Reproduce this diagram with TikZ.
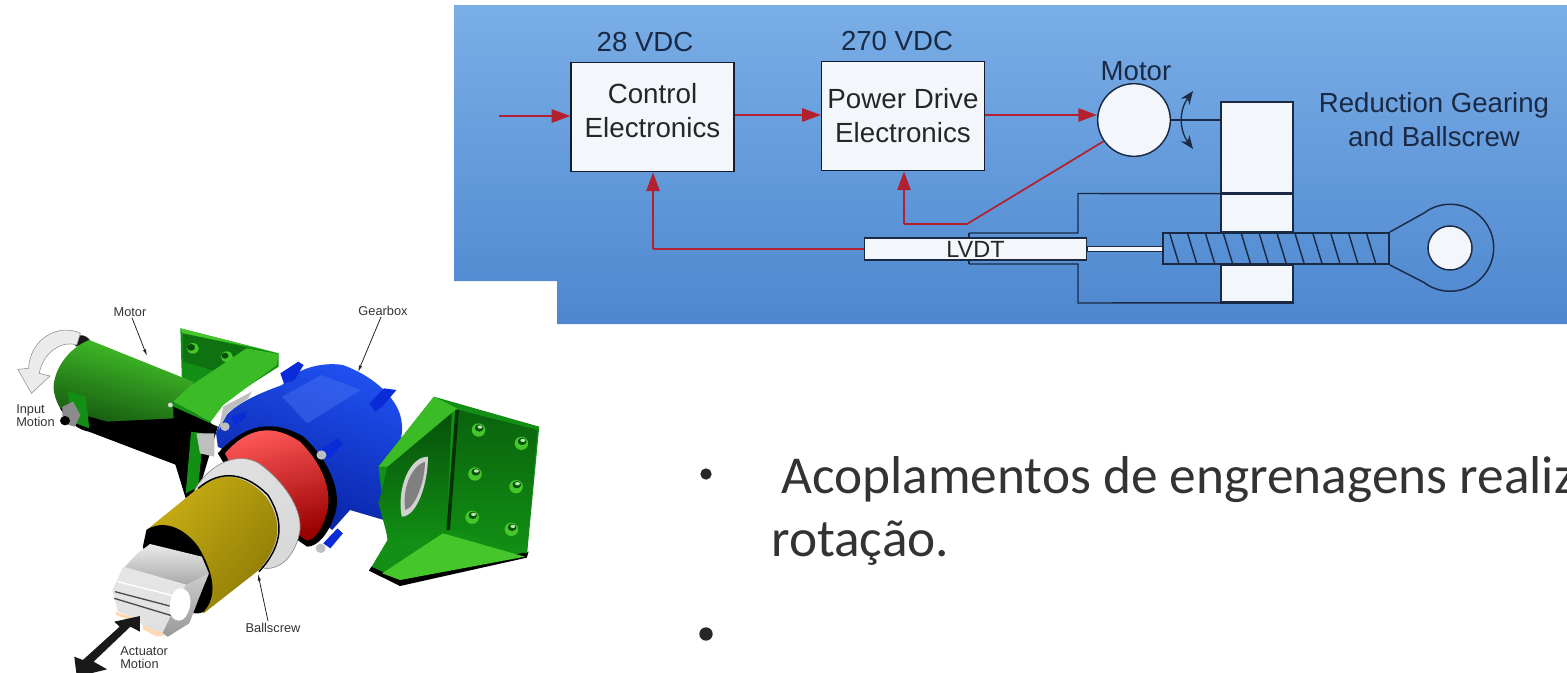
\documentclass[tikz,border=0pt]{standalone}
\usepackage{fontspec}
\setmainfont{Liberation Sans}
\newfontfamily\bodyfont{Carlito}
\usetikzlibrary{arrows.meta,calc}
\definecolor{sigred}{HTML}{B3202E}
\definecolor{ink}{HTML}{1B2A44}
\definecolor{paper}{HTML}{F3F6FA}
\definecolor{gA}{HTML}{45C62A}
\definecolor{gB}{HTML}{128F14}
\definecolor{gC}{HTML}{06500A}
\definecolor{bA}{HTML}{2050F0}
\definecolor{bB}{HTML}{0A2BD8}
\definecolor{bC}{HTML}{0620A0}
\definecolor{yA}{HTML}{C9AE14}
\definecolor{yB}{HTML}{E5D24A}
\definecolor{yC}{HTML}{8E7C05}
\definecolor{panelA}{RGB}{122,174,231}
\definecolor{panelB}{RGB}{93,149,217}
\definecolor{panelC}{RGB}{78,135,207}
\tikzset{
  x=0.75pt,y=-0.75pt,
  sigline/.style={draw=sigred,line width=1.3pt},
  sigarrow/.style={sigline,-{Triangle[length=14pt,width=10pt]}},
  block/.style={draw=ink!70!black,fill=paper,line width=1.2pt,inner sep=0pt,minimum width=122pt,minimum height=82pt,align=center,font=\fontsize{20.8}{25.5}\selectfont,text=black!85},
  blocktext/.style={inner sep=0pt,align=center,font=\fontsize{20.8}{25.5}\selectfont,text=black!85},
  captext/.style={inner sep=0pt,text=ink,font=\fontsize{20.7}{25}\selectfont,align=center},
  mech/.style={draw=ink,line width=1.1pt},
  whitepart/.style={draw=ink,fill=paper,line width=1.1pt},
  smalltext/.style={inner sep=0pt,align=left,text=black!80,font=\fontsize{9.6}{9.8}\selectfont},
  leader/.style={draw=black!85,line width=0.6pt,-{Latex[length=5pt,width=2.5pt]}},
  bodytext/.style={inner sep=0pt,anchor=base west,text=black!80,font=\bodyfont\fontsize{40}{45}\selectfont},
  bulletdot/.style={circle,fill=black!85,inner sep=0pt,minimum size=10pt},
  zoomed/.style={x=0.26786pt,y=-0.25pt,yshift=-217.5pt}
}
\begin{document}
\begin{tikzpicture}
\useasboundingbox (0,0) rectangle (1567,672);
\clip (0,0) rectangle (1567,672);
% ---------- blue panel
\path[top color=panelA,middle color=panelB,bottom color=panelC]
  (454,5) -- (1567,5) -- (1567,324) -- (557,324) -- (557,281) -- (454,281) -- cycle;
% ---------- mechanical schematic
\node[whitepart,minimum width=54pt,minimum height=68pt,inner sep=0pt] (gearA) at (1257,147.5) {};
\node[whitepart,minimum width=54pt,minimum height=29pt,inner sep=0pt] (gearB) at (1257,212.5) {};
\node[whitepart,minimum width=54pt,minimum height=28pt,inner sep=0pt] (gearC) at (1257,283.5) {};
\draw[ink,line width=2pt] (gearA.south west) -- (gearA.south east);
\draw[ink,line width=2pt] (gearC.south west) -- (gearC.south east);
\coordinate (hTopA) at (gearA.south west);
\coordinate (hBotA) at (gearC.south west);
\coordinate (hTopB) at (1078,233);
\coordinate (hBotB) at (1078,264);
\coordinate (sleeveT) at (969,233);
\coordinate (sleeveB) at (969,264);
\draw[mech] (hTopA) -- (1078,193.5) -- (hTopB) -- (sleeveT);
\draw[mech] (hBotA) -- (1078,303) -- (hBotB) -- (sleeveB);
% screw
\node[whitepart,minimum width=57pt,minimum height=3.6pt,inner sep=0pt] (rod) at (1125,249) {};
\node[mech,minimum width=169.5pt,minimum height=23.5pt,inner sep=0pt] (screw) at (1276,248.5) {};
\foreach \i in {0,...,11}{\draw[mech] ($(screw.north west)+(7+17.9*\i,0)$) -- ($(screw.south west)+(17+17.9*\i,0)$);}
% eye
\coordinate (eyeC) at (1450,248);
\draw[mech] (screw.north east) -- (1424,213) arc[start angle=-127,end angle=127,radius=43.5] -- (screw.south east);
\node[whitepart,circle,minimum size=33pt,inner sep=0pt] (eyeHole) at (eyeC) {};
% LVDT
\draw[mech] (969,233) -- (969,264);
\node[whitepart,minimum width=166.5pt,minimum height=16.5pt,inner sep=0pt,text=black!85,font=\fontsize{17.6}{20}\selectfont] (lvdt) at (975.5,249) {LVDT};
% motor
\node[whitepart,circle,minimum size=54.5pt,inner sep=0pt] (motor) at (1134,120) {};
\node[captext] (motorT) at (1136,71) {Motor};
\draw[ink,line width=1.1pt] (motor.east) -- (gearA.west |- motor.east);
\coordinate (rotT) at (1193,91);
\coordinate (rotB) at (1193,149);
\draw[ink,line width=1pt,{Stealth[length=10pt,width=8pt]}-{Stealth[length=10pt,width=8pt]}] (rotT) .. controls (1179,110) and (1179,130) .. (rotB);
% blocks
\node[block] (ctrl) at (652.5,117) {};
\node[blocktext] (ctrlT) at (652.5,111) {Control\\Electronics};
\node[block] (drive) at (903,116) {Power Drive\\Electronics};
\node[captext] (v28) at (645,42) {28 VDC};
\node[captext] (v270) at (897,41) {270 VDC};
\node[captext] (redT) at (1434,119.5) {Reduction Gearing\\and Ballscrew};
% signal lines
\coordinate (inp) at (499,116);
\coordinate (fb1) at (967,224);
\coordinate (fb2) at (904,224);
\coordinate (fb3) at (653,249);
\draw[sigarrow] (inp) -- (ctrl.west |- inp);
\draw[sigarrow] (ctrl.east |- 0,115) -- (drive.west |- 0,115);
\draw[sigarrow] (drive.east |- 0,115) -- (motor.west |- 0,115);
\draw[sigline] (motor.-145) -- (fb1) -- (fb2);
\draw[sigarrow] (fb2) -- (drive.south -| fb2);
\draw[sigline] (lvdt.west) -- (fb3);
\draw[sigarrow] (fb3) -- (ctrl.south -| fb3);
% ---------- text
\node[bodytext] (bodyA) at (781,493) {Acoplamentos de engrenagens realiz};
\node[bodytext] (bodyB) at (771,556) {rotação.};
\node[bulletdot,minimum size=8.5pt] (dotA) at (706,474) {};
\node[bulletdot] (dotB) at (706,634) {};
% ---------- actuator illustration
\begin{scope}[zoomed]
 % gray rotation arrow
 \fill[black!90] (205,142) .. controls (225,130) and (240,135) .. (252,150) -- (225,165) -- (212,170) -- cycle;
 \draw[black!45,fill=black!8,line width=0.4pt] (225,130) .. controls (170,100) and (85,140) .. (80,235) -- (50,238) -- (88,310) -- (140,258) -- (110,250) .. controls (120,190) and (170,150) .. (215,165) -- cycle;
 % motor rear bracket plate
 \fill[gB] (505,115) -- (780,190) -- (780,230) -- (620,340) -- (510,300) -- cycle;
 \fill[gA] (505,115) -- (780,190) -- (700,170) -- (510,130) -- cycle;
 \fill[gB!80!black] (512,130) -- (690,172) -- (690,200) -- (610,245) -- (512,215) -- cycle;
 \fill[gA] (540,175) circle[x radius=17,y radius=16];
 \fill[gC] (535,172) circle[x radius=11,y radius=10];
 \fill[gA] (635,200) circle[x radius=17,y radius=16];
 \fill[gC] (630,197) circle[x radius=10,y radius=9];
 % motor body
 \path[top color=gA,middle color=gB,bottom color=gC!60!black,shading angle=-15] (250,150) .. controls (190,175) and (150,240) .. (150,295) .. controls (155,350) and (190,400) .. (250,425) -- (495,525) -- (560,400) -- (540,275) -- cycle;
 \fill[black] (168,355) .. controls (195,400) and (220,420) .. (250,425) -- (495,525) -- (560,400) -- (490,385) -- (300,395) -- cycle;
 \fill[gB] (190,305) -- (240,320) -- (250,415) -- (200,395) -- cycle;
 \fill[black!45] (175,350) -- (205,335) -- (225,375) -- (210,410) -- (175,400) -- cycle;
 \fill[black] (182,392) circle[radius=14];
 % bracket front
 \fill[gA!80!gB] (485,335) -- (530,290) -- (690,175) -- (780,192) -- (775,225) -- (625,345) -- (590,395) -- cycle;
 \fill[gB] (485,335) -- (590,395) -- (600,420) -- (480,355) -- cycle;
 \fill[black] (485,350) -- (610,410) -- (560,590) -- (520,625) -- (490,520) -- cycle;
 \fill[gB] (535,425) -- (570,430) -- (555,590) -- (520,610) -- cycle;
 \fill[black!25] (550,430) -- (600,430) -- (600,500) -- (560,490) -- cycle;
 \fill[white!85!black] (477,345) circle[radius=7];
 % blue gearbox
 \path[top color=bA,middle color=bB,bottom color=bC,shading angle=-20] (605,430) .. controls (620,360) and (700,320) .. (790,285) .. controls (830,235) and (900,215) .. (960,225) .. controls (1050,260) and (1120,330) .. (1125,400) .. controls (1130,440) and (1115,480) .. (1090,520) -- (1075,690) -- (980,660) -- (930,720) -- (700,520) -- (610,470) -- cycle;
 \fill[bA!80!white,opacity=.45] (790,320) -- (900,255) -- (1010,300) -- (950,340) -- (860,400) -- cycle;
 \fill[black!25] (625,350) -- (705,305) -- (695,325) -- (640,365) -- (612,420) -- cycle;
 \fill[bB] (785,250) -- (835,215) -- (850,225) -- (825,270) -- (795,280) -- cycle;
 \fill[bB] (1035,340) -- (1075,295) -- (1110,300) -- (1070,350) -- (1050,365) -- cycle;
 \fill[bB] (895,480) -- (945,445) -- (960,460) -- (930,500) -- (905,505) -- cycle;
 \fill[bB] (650,380) -- (690,365) -- (690,380) -- (655,410) -- cycle;
 \fill[bB] (905,760) -- (945,715) -- (960,730) -- (925,775) -- cycle;
 % right bracket
 \fill[gB] (1060,530) -- (1215,320) -- (1510,410) -- (1475,800) -- (1120,885) -- (1035,840) -- (1085,750) -- cycle;
 \fill[black] (1120,888) -- (1475,803) -- (1480,785) -- (1120,870) -- (1040,830) -- (1033,842) -- cycle;
 \path[top color=gC,bottom color=gB] (1085,530) -- (1265,365) -- (1250,740) -- (1090,760) -- (1060,640) -- cycle;
 \path[top color=gC!70!gB,bottom color=gB] (1285,360) -- (1505,420) -- (1475,790) -- (1255,715) -- cycle;
 \fill[gA] (1240,730) -- (1470,800) -- (1120,870) -- (1070,850) -- cycle;
 \fill[gA!80!gB] (1060,530) -- (1215,320) -- (1280,355) -- (1085,530) -- cycle;
 \fill[black!40!gC] (1275,360) -- (1285,360) -- (1260,720) -- (1250,720) -- cycle;
 \fill[black!18] (1125,680) .. controls (1110,600) and (1145,500) .. (1198,500) .. controls (1200,570) and (1170,680) .. (1125,680) -- cycle;
 \fill[black!50] (1135,660) .. controls (1125,600) and (1150,530) .. (1190,515) .. controls (1190,570) and (1165,650) .. (1135,660) -- cycle;
 \foreach \hx/\hy in {1340/420,1460/460,1330/552,1445/590,1322/682,1432/718}{
   \fill[gA] (\hx,\hy) circle[x radius=19,y radius=20];
   \fill[gC] (\hx+2,\hy-6) circle[x radius=12,y radius=11];
   \fill[white!60!gA] (\hx+4,\hy-9) circle[x radius=7,y radius=5];
 }
 % red section
 \fill[black] (610,490) .. controls (690,395) and (770,390) .. (850,440) .. controls (930,520) and (960,620) .. (935,680) .. controls (920,730) and (890,770) .. (860,770) -- (700,650) -- cycle;
 \path[top color=red!65!white,middle color=red!85!black,bottom color=red!60!black,shading angle=15] (630,490) .. controls (700,405) and (770,405) .. (840,455) .. controls (910,530) and (930,610) .. (915,670) .. controls (900,720) and (885,745) .. (860,752) -- (700,640) -- cycle;
 \fill[black!25] (630,410) circle[radius=13];
 \fill[black!25] (900,495) circle[radius=14];
 \fill[black!25] (898,775) circle[radius=14];
 % silver nut
 \path[draw=black!45,line width=0.5pt,top color=black!12,middle color=black!40,bottom color=black!15,shading angle=30] (545,600) .. controls (590,515) and (670,485) .. (725,520) .. controls (790,570) and (845,650) .. (840,720) .. controls (830,790) and (790,840) .. (740,835) -- (600,720) -- cycle;
 % yellow cylinder
 \path[top color=yA,middle color=yB,bottom color=yC,shading angle=50] (560,590) .. controls (620,540) and (690,555) .. (745,620) .. controls (790,690) and (790,760) .. (725,840) -- (570,970) -- (410,720) -- cycle;
 \draw[black,line width=1.1pt] (555,595) .. controls (620,535) and (690,550) .. (750,615) .. controls (795,690) and (795,765) .. (725,845);
 % tube interior
 \fill[black] (410,720) .. controls (450,690) and (510,705) .. (555,770) .. controls (600,850) and (610,920) .. (570,965) .. controls (540,985) and (440,950) .. (400,770) -- cycle;
 % silver clevis
 \path[top color=black!8,bottom color=black!35] (385,790) -- (420,762) -- (565,800) -- (585,850) -- (530,890) -- (345,835) -- cycle;
 \path[top color=black!10,middle color=black!65,bottom color=black!12] (345,830) -- (525,885) -- (470,1040) -- (400,1010) -- (385,985) -- (330,965) -- (315,900) -- cycle;
 \draw[black!70,line width=1pt] (322,905) -- (500,955) (320,925) -- (490,980);
 \draw[white,line width=1pt] (330,875) -- (515,925);
 \path[top color=black!20,bottom color=black!40] (520,885) -- (585,850) -- (555,930) -- (530,1000) -- (470,1040) -- (455,1030) -- cycle;
 \fill[white] (505,895) .. controls (535,895) and (540,940) .. (525,970) .. controls (510,1010) and (470,990) .. (475,950) .. controls (478,915) and (490,895) .. (505,895) -- cycle;
 \fill[orange!30!white] (322,965) -- (385,985) -- (375,995) -- (325,975) -- cycle;
 \fill[orange!30!white] (400,1005) -- (465,1035) -- (440,1040) -- (400,1018) -- cycle;
 % black double arrow
 \fill[black!90] (392,978) -- (392,1025) -- (365,1010) -- (262,1115) -- (300,1138) -- (215,1160) -- (208,1100) -- (232,1110) -- (335,1010) -- (320,995) -- cycle;
\end{scope}
% leader lines and labels of the illustration
\node[smalltext,anchor=center] (lmotor) at (130,312) {Motor};
\node[smalltext,anchor=center] (lgear) at (383,311) {Gearbox};
\node[smalltext,anchor=center] (lball) at (273,628) {Ballscrew};
\node[smalltext,anchor=west] (linput) at (16,416) {Input\\Motion};
\node[smalltext,anchor=west] (lact) at (120,658) {Actuator\\Motion};
\coordinate (tmotor) at (147,356);
\coordinate (tgear) at (358,372);
\coordinate (tball) at (258,574);
\draw[leader] (lmotor.south) ++(2,1) -- (tmotor);
\draw[leader] (lgear.south) ++(-2,1) -- (tgear);
\draw[leader] (lball.north) ++(-5,-2) -- (tball);
\end{tikzpicture}
\end{document}
